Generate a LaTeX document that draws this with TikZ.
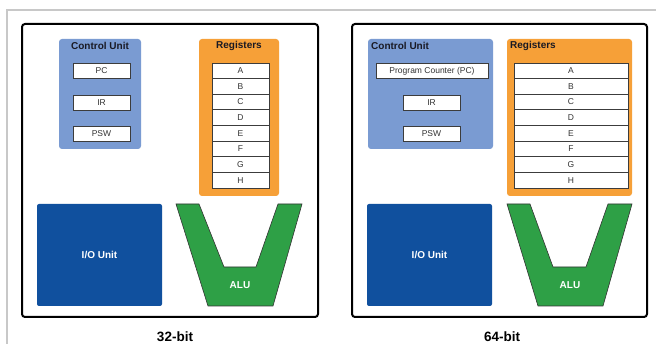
\documentclass[tikz,border=0pt]{standalone}
\usepackage{fontspec}
\setmainfont{Liberation Sans}
\definecolor{cublue}{RGB}{122,155,210}
\definecolor{regorange}{RGB}{246,160,56}
\definecolor{ioblue}{RGB}{16,80,158}
\definecolor{alugreen}{RGB}{46,160,70}
\definecolor{framegray}{RGB}{200,200,200}
\definecolor{celledge}{RGB}{60,60,60}
\definecolor{titletext}{RGB}{25,25,35}
\tikzset{
  panel/.style={draw=black, line width=2pt, rounded corners=3pt, fill=white, inner sep=0, outer sep=0},
  cubox/.style={fill=cublue, rounded corners=3pt, inner sep=0, outer sep=0},
  regbox/.style={fill=regorange, rounded corners=3pt, inner sep=0, outer sep=0},
  iobox/.style={fill=ioblue, rounded corners=2pt, inner sep=0, outer sep=0, text=white, font=\bfseries\fontsize{10}{12}\selectfont},
  title/.style={font=\bfseries\fontsize{10}{12}\selectfont, text=titletext, inner sep=0},
  cell/.style={draw=celledge, line width=0.9pt, fill=white, inner sep=0, outer sep=0, minimum height=15.6pt, font=\fontsize{8.5}{10}\selectfont, text=black!80},
  alushape/.style={fill=alugreen, draw=black!80, line width=0.6pt},
  alutext/.style={text=white, font=\bfseries\fontsize{10}{12}\selectfont, inner sep=0},
  caption/.style={font=\bfseries\fontsize{13.5}{16}\selectfont, inner sep=0}
}
\begin{document}
\begin{tikzpicture}[x=1pt, y=-1pt]
\useasboundingbox (0,0) rectangle (656,344);
\fill[white] (0,0) rectangle (656,344);
% outer gray frame
\coordinate (fbl) at (7,344);
\coordinate (ftl) at (7,10);
\coordinate (ftr) at (656,10);
\draw[framegray, line width=2pt] (fbl) -- (ftl) -- (ftr);

% ===== left panel (32-bit) =====
\node[panel, minimum width=296pt, minimum height=293pt] (p1) at (170,170.5) {};
\node[cubox, minimum width=82pt, minimum height=110pt] (cu1) at (100,94) {};
\node[title] (cu1t) at (100,46) {Control Unit};
\node[cell, minimum width=57pt] (pc1) at (101.5,71) {PC};
\node[cell, minimum width=57pt] (ir1) at (101.5,103) {IR};
\node[cell, minimum width=57pt] (psw1) at (101.5,134) {PSW};
\node[regbox, minimum width=80pt, minimum height=157pt] (reg1) at (239,117.5) {};
\node[title] (reg1t) at (239,46) {Registers};
\foreach \l [count=\i from 0] in {A,B,C,D,E,F,G,H}
  \node[cell, minimum width=57pt] (r1\l) at (240.5,{70.8+15.625*\i}) {\l};
\node[iobox, minimum width=125pt, minimum height=102pt] (io1) at (99.5,255) {I/O Unit};
\draw[alushape] (176,204) -- (199,204) -- (224,267) -- (256,267) -- (278,204) -- (302,204) -- (273,306) -- (208,306) -- cycle;
\node[alutext] (alu1) at (240,285) {ALU};
\node[caption] (cap1) at (175,337) {32-bit};

% ===== right panel (64-bit) =====
\node[panel, minimum width=295pt, minimum height=293pt] (p2) at (499.5,170.5) {};
\node[cubox, minimum width=125pt, minimum height=110pt] (cu2) at (430.5,94) {};
\node[title, anchor=west] (cu2t) at (371,46) {Control Unit};
\node[cell, minimum width=112pt] (pc2) at (432,71) {Program Counter (PC)};
\node[cell, minimum width=57pt] (ir2) at (431.5,103) {IR};
\node[cell, minimum width=57pt] (psw2) at (431.5,134) {PSW};
\node[regbox, minimum width=125pt, minimum height=157pt] (reg2) at (569.5,117.5) {};
\node[title, anchor=west] (reg2t) at (510,46) {Registers};
\foreach \l [count=\i from 0] in {A,B,C,D,E,F,G,H}
  \node[cell, minimum width=114pt] (r2\l) at (571,{70.8+15.625*\i}) {\l};
\node[iobox, minimum width=125pt, minimum height=102pt] (io2) at (429.5,255) {I/O Unit};
\draw[alushape] (507,204) -- (530,204) -- (553,267) -- (586,267) -- (608,204) -- (632,204) -- (603,306) -- (538,306) -- cycle;
\node[alutext] (alu2) at (570,285) {ALU};
\node[caption] (cap2) at (502,337) {64-bit};
\end{tikzpicture}
\end{document}
